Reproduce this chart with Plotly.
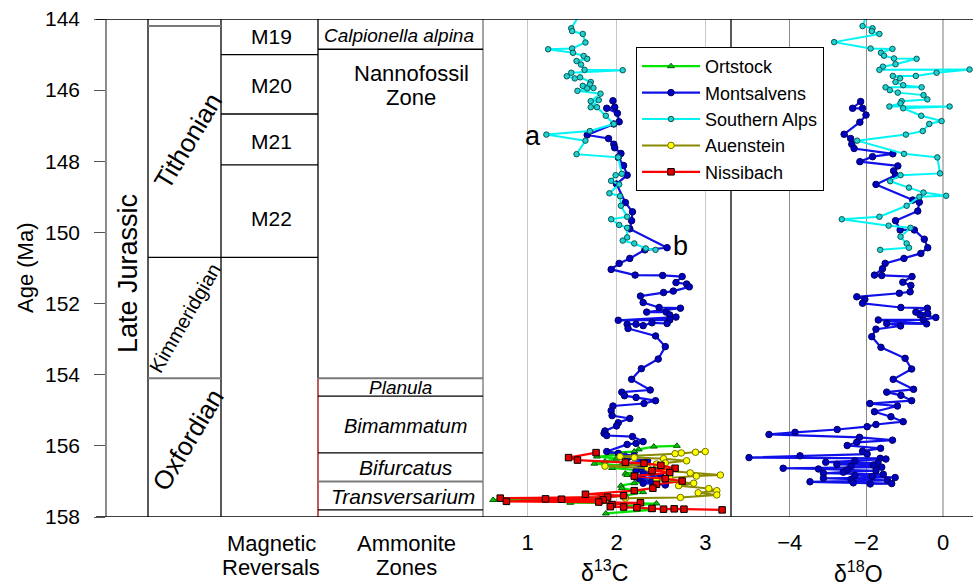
import plotly.graph_objects as go

W, H = 973, 586

def px(x):
    return x / W

# ---------------- data (age in Ma, isotope values in permil) ----------------
# Southern Alps d13C
sa_c13_age = [143.90, 144.26, 144.34, 144.42, 144.66, 144.83, 144.85, 144.95, 145.04, 145.12,
              145.18, 145.28, 145.43, 145.44, 145.51, 145.61, 145.67, 145.64, 145.77, 145.84,
              145.88, 145.95, 145.94, 146.02, 146.10, 146.31, 146.28, 146.48, 146.48, 146.72,
              146.95, 147.15, 147.25, 147.42, 147.80, 147.89, 148.35, 148.39, 148.55, 148.65,
              148.90, 148.98, 149.25, 149.56, 149.63, 149.79, 149.87, 150.14, 150.23, 150.31,
              150.45, 150.49]
sa_c13 = [1.58, 1.49, 1.50, 1.62, 1.65, 1.50, 1.23, 1.51, 1.63, 1.67,
          1.55, 1.60, 1.64, 2.07, 1.49, 1.44, 1.53, 1.59, 1.71, 1.70,
          1.62, 1.67, 1.74, 1.56, 1.82, 1.71, 1.80, 1.71, 1.78, 1.88,
          1.97, 1.70, 1.21, 1.65, 1.55, 2.02, 2.06, 1.99, 1.94, 2.03,
          1.92, 2.04, 2.05, 2.12, 1.94, 2.03, 2.12, 2.12, 2.07, 2.20,
          2.33, 2.44]

# Montsalvens d13C
mo_c13_age = [146.30, 146.48, 146.51, 146.65, 146.89, 146.95, 147.26, 147.36, 147.52, 147.62,
              147.78, 147.89, 148.12, 148.39, 148.64, 149.16, 149.42, 149.67, 149.90, 150.43,
              150.49, 150.73, 150.87, 151.04, 151.20, 151.21, 151.24, 151.41, 151.45, 151.53,
              151.65, 151.69, 151.79, 151.97, 152.11, 152.13, 152.24, 152.24, 152.32, 152.38,
              152.47, 152.46, 152.56, 152.54, 152.62, 152.58, 152.58, 152.70, 152.91, 153.21,
              153.56, 153.83, 154.13, 154.43, 154.49, 154.59, 154.64, 154.73, 154.81, 154.88,
              155.01, 155.15, 155.23, 155.35, 155.44, 155.58, 155.65, 155.71, 155.74, 155.88,
              155.93, 155.96, 156.16, 156.21, 156.28, 156.35, 156.42, 156.50, 156.58, 156.63,
              156.70, 156.75, 156.80, 156.86, 156.92, 157.00, 157.05, 157.10]
mo_c13 = [1.96, 1.98, 1.89, 2.01, 2.03, 1.97, 1.67, 1.91, 1.97, 1.98,
          2.05, 2.02, 2.08, 2.12, 2.00, 2.10, 2.18, 2.17, 2.15, 2.57,
          2.32, 2.15, 2.03, 1.94, 2.21, 2.52, 2.74, 2.67, 2.79, 2.82,
          2.64, 2.53, 2.27, 2.30, 2.48, 2.72, 2.34, 2.56, 2.60, 2.67,
          2.02, 2.60, 2.57, 2.40, 2.30, 2.22, 2.12, 2.13, 2.44, 2.55,
          2.47, 2.28, 2.17, 2.38, 2.06, 2.09, 2.22, 2.44, 2.31, 1.96,
          1.94, 1.95, 2.15, 2.02, 2.00, 1.87, 1.86, 1.89, 2.18, 2.30,
          2.22, 2.12, 1.89, 2.02, 2.20, 2.12, 2.35, 2.10, 2.28, 2.45,
          2.22, 2.40, 2.30, 2.50, 2.25, 2.40, 2.30, 2.55]

# Ortstock d13C
or_c13_age = [156.00, 156.02, 156.10, 156.16, 156.19, 156.25, 156.30, 156.36, 156.44, 156.50,
              156.55, 156.62, 156.70, 156.78, 156.82, 156.88, 156.91, 156.98, 157.05, 157.12,
              157.19, 157.30, 157.40, 157.45, 157.52, 157.55, 157.60, 157.62, 157.70, 157.80,
              157.90]
or_c13 = [2.68, 2.42, 2.25, 2.20, 1.93, 2.10, 1.78, 2.00, 1.87, 1.75,
          2.05, 1.95, 2.30, 2.10, 2.12, 2.25, 2.23, 2.40, 2.20, 2.05,
          2.06, 2.30, 2.10, 1.80, 0.61, 1.30, 1.48, 2.45, 2.10, 2.40,
          1.88]

# Auenstein d13C
au_c13_age = [156.16, 156.18, 156.20, 156.22, 156.30, 156.33, 156.36, 156.42, 156.48, 156.51,
              156.57, 156.62, 156.70, 156.76, 156.82, 156.85, 156.90, 156.96, 157.05, 157.12,
              157.20, 157.26, 157.32, 157.38, 157.45, 157.47]
au_c13 = [3.00, 2.89, 2.73, 2.66, 2.04, 2.20, 2.53, 2.79, 2.55, 2.45,
          1.87, 2.35, 2.55, 2.83, 3.17, 2.90, 2.60, 2.45, 2.87, 2.70,
          3.04, 3.13, 2.92, 3.13, 2.72, 2.10]

# Nissibach d13C
ni_c13_age = [156.19, 156.33, 156.40, 156.46, 156.49, 156.55, 156.63, 156.70, 156.75, 156.85,
              156.92, 156.99, 157.08, 157.19, 157.26, 157.36, 157.40, 157.44, 157.47, 157.49,
              157.50, 157.52, 157.56, 157.58, 157.60, 157.65, 157.71, 157.72, 157.74, 157.76,
              157.78, 157.77, 157.78, 157.80]
ni_c13 = [1.77, 1.46, 1.56, 2.10, 2.31, 2.50, 2.66, 2.40, 2.60, 2.20,
          2.55, 2.74, 2.45, 2.41, 2.20, 1.65, 2.08, 1.90, 0.69, 1.20,
          1.38, 1.85, 0.76, 1.80, 2.27, 1.95, 1.93, 2.08, 2.23, 2.40,
          2.53, 2.65, 2.76, 3.19]

# Southern Alps d18O
sa_o18_age = [143.90, 144.20, 144.26, 144.34, 144.42, 144.65, 144.83, 144.84, 144.95, 145.03,
              145.11, 145.12, 145.27, 145.34, 145.43, 145.42, 145.51, 145.60, 145.60, 145.67,
              145.77, 145.86, 145.92, 145.92, 146.00, 146.07, 146.14, 146.26, 146.31, 146.37,
              146.46, 146.46, 146.51, 146.72, 146.87, 146.95, 147.15, 147.25, 147.42, 147.79,
              147.89, 148.34, 148.39, 148.56, 148.74, 148.88, 148.97, 149.00, 149.25, 149.56,
              149.63, 149.81, 149.87, 150.12, 150.31, 150.43, 150.49]
sa_o18 = [-2.00, -2.10, -1.84, -1.86, -1.66, -2.84, -1.89, -1.32, -1.62, -1.54,
          -1.28, -0.69, -1.24, -1.57, -1.66, 0.69, -0.17, -0.71, -1.31, -1.12,
          -1.24, -1.04, -0.56, -1.50, -1.39, -1.18, -0.51, -0.41, -1.08, -1.11,
          -1.40, 0.17, -1.04, -0.57, -0.04, -0.36, -0.53, -0.97, -2.24, -1.02,
          -0.15, -0.08, -1.11, -1.38, -0.89, -0.51, 0.08, -0.62, -0.95, -1.66,
          -2.64, -1.42, -0.85, -1.11, -0.95, -0.89, -1.64]

# Montsalvens d18O
mo_o18_age = [146.32, 146.51, 146.51, 146.70, 146.90, 147.24, 147.36, 147.52, 147.64, 147.79,
              147.87, 148.01, 148.13, 148.27, 148.39, 148.65, 149.09, 149.15, 149.40, 149.67,
              149.93, 149.93, 150.19, 150.43, 150.59, 150.73, 150.87, 151.02, 151.20, 151.21,
              151.24, 151.40, 151.49, 151.67, 151.71, 151.81, 151.88, 151.99, 152.11, 152.13,
              152.24, 152.28, 152.32, 152.39, 152.46, 152.46, 152.57, 152.56, 152.63, 152.72,
              152.93, 153.23, 153.54, 153.84, 154.13, 154.41, 154.49, 154.58, 154.73, 154.81,
              154.88, 155.04, 155.18, 155.32, 155.40, 155.46, 155.54, 155.62, 155.68, 155.76,
              155.84, 155.90, 155.99, 156.07, 156.15, 156.23, 156.28, 156.33, 156.35, 156.37,
              156.42, 156.46, 156.48, 156.52, 156.54, 156.57, 156.60, 156.63, 156.65, 156.68,
              156.70, 156.74, 156.77, 156.80, 156.83, 156.86, 156.89, 156.91, 156.94, 156.97,
              157.01, 157.04, 157.06, 157.07]
mo_o18 = [-2.15, -2.36, -2.10, -2.01, -2.17, -2.58, -2.41, -2.38, -2.32, -1.31,
          -1.84, -2.17, -1.18, -1.29, -1.24, -1.75, -0.79, -0.62, -0.66, -1.24,
          -1.12, -0.75, -0.49, -0.40, -0.58, -1.02, -1.51, -1.58, -1.79, -1.60,
          -0.81, -1.05, -0.84, -0.86, -1.14, -2.25, -2.04, -2.10, -1.10, -0.41,
          -0.71, -0.40, -0.60, -0.19, -0.51, -1.69, -0.43, -1.47, -1.11, -1.75,
          -1.86, -1.62, -0.99, -0.82, -1.30, -0.77, -1.47, -1.10, -0.82, -1.91,
          -1.19, -1.79, -1.36, -1.04, -1.75, -1.98, -2.76, -3.86, -4.54, -2.18,
          -1.32, -2.25, -2.50, -1.63, -2.10, -1.98, -3.73, -5.06, -1.64, -1.49,
          -2.30, -3.06, -1.70, -2.77, -1.82, -2.40, -1.60, -4.17, -3.25, -2.51,
          -1.75, -2.60, -3.12, -1.56, -2.30, -1.85, -1.25, -3.12, -2.40, -1.45,
          -3.47, -2.34, -1.34, -1.90]

# Stratigraphic boundaries (Ma)
stage_bounds = [144.2, 150.7, 154.1]
mag_bounds = [145.0, 146.67, 148.1]
mag_labels = ["M19", "M20", "M21", "M22"]
mag_label_age = [144.5, 145.86, 147.45, 149.6]
amm_bounds_black = [144.85, 154.6, 156.2, 157.8]
amm_bounds_gray = [154.1, 157.0]
y_ticks = [144, 146, 148, 150, 152, 154, 156, 158]

# ---------------- figure ----------------
FONT = "Liberation Sans, Arial, sans-serif"
fig = go.Figure()

# invisible trace so that the stratigraphy subplot (x, y) exists and carries the age axis
fig.add_trace(go.Scatter(x=[None], y=[None], xaxis="x", yaxis="y", mode="markers",
                         showlegend=False, hoverinfo="skip"))

def add_series(xs, ys, name, axis, line_color, mcolor, mline, symbol, size, lw, show):
    fig.add_trace(go.Scatter(
        x=xs, y=ys, name=name, xaxis=axis, yaxis="y", mode="lines+markers",
        line=dict(color=line_color, width=lw),
        marker=dict(symbol=symbol, size=size, color=mcolor, line=dict(color=mline, width=1)),
        showlegend=show))

add_series(or_c13, or_c13_age, "Ortstock", "x2", "#00e400", "#00c800", "#005a00", "triangle-up", 6, 2.2, True)
add_series(mo_c13, mo_c13_age, "Montsalvens", "x2", "#1010e8", "#0000c0", "#000060", "circle", 6.5, 2.2, True)
add_series(sa_c13, sa_c13_age, "Southern Alps", "x2", "#00f4f4", "#22d0d0", "#005858", "circle", 5.5, 2.0, True)
add_series(au_c13, au_c13_age, "Auenstein", "x2", "#8a8a00", "#ffff00", "#707000", "circle", 6.5, 2.0, True)
add_series(ni_c13, ni_c13_age, "Nissibach", "x2", "#ff0000", "#e00000", "#000000", "square", 6.5, 2.2, True)
add_series(mo_o18, mo_o18_age, "Montsalvens", "x3", "#1010e8", "#0000c0", "#000060", "circle", 6.5, 2.2, False)
add_series(sa_o18, sa_o18_age, "Southern Alps", "x3", "#00f4f4", "#22d0d0", "#005858", "circle", 5.5, 2.0, False)

shapes = []

def vline(x, y0, y1, color, width=1.3):
    shapes.append(dict(type="line", xref="paper", yref="y", x0=px(x), x1=px(x), y0=y0, y1=y1,
                       line=dict(color=color, width=width)))

def hline(x0, x1, y, color, width=1.3):
    shapes.append(dict(type="line", xref="paper", yref="y", x0=px(x0), x1=px(x1), y0=y, y1=y,
                       line=dict(color=color, width=width)))

# column separators
vline(148, 144, 158, "black")
vline(221, 144, 158, "black")
vline(318, 144, 154.1, "black")
vline(318, 154.1, 158, "#a00000")
vline(483, 144, 158, "#8c8c8c", 1.6)
vline(731, 144, 158, "#303030", 1.6)
# stage boundaries
hline(148, 221, stage_bounds[0], "#7a7a7a", 2)
hline(148, 318, stage_bounds[1], "black")
hline(148, 221, stage_bounds[2], "#7a7a7a", 2)
# magnetic reversals
for b in mag_bounds:
    hline(221, 318, b, "black")
# ammonite zones
for b in amm_bounds_black:
    hline(318, 483, b, "black")
for b in amm_bounds_gray:
    hline(318, 483, b, "#7a7a7a", 2)
# top / bottom frame
hline(96, 973, 144, "black", 1.5)
hline(96, 973, 158, "black", 1.5)

ann = []

def text(x, y, s, size=21, angle=0, italic=False, xref="paper"):
    if italic:
        s = "<i>" + s + "</i>"
    ann.append(dict(x=px(x) if xref == "paper" else x, y=y, xref=xref, yref="y", text=s,
                    showarrow=False, textangle=angle, xanchor="center", yanchor="middle",
                    font=dict(family=FONT, size=size, color="black")))

text(128, 151.17, "Late Jurassic", size=27, angle=-90)
text(188, 147.43, "Tithonian", size=26, angle=-59)
text(185, 152.41, "Kimmeridgian", size=20, angle=-60)
text(188, 155.84, "Oxfordian", size=26, angle=-59)
for lab, a in zip(mag_labels, mag_label_age):
    text(271, a, lab, size=21)
text(399, 144.47, "Calpionella alpina", size=19, italic=True)
text(411, 145.52, "Nannofossil", size=22)
text(411, 146.2, "Zone", size=22)
text(400, 154.36, "Planula", size=19, italic=True)
text(405, 155.44, "Bimammatum", size=20, italic=True)
text(406, 156.61, "Bifurcatus", size=21, italic=True)
text(403, 157.42, "Transversarium", size=21, italic=True)
text(1.06, 147.29, "a", size=27, xref="x2")
text(2.72, 150.38, "b", size=27, xref="x2")

# bottom labels (paper y)
def ptext(x, ypix, s, size=22, angle=0):
    ann.append(dict(x=px(x), y=(517 - ypix) / 498, xref="paper", yref="paper", text=s,
                    showarrow=False, textangle=angle, xanchor="center", yanchor="middle",
                    font=dict(family=FONT, size=size, color="black")))

ptext(271, 543, "Magnetic")
ptext(271, 567, "Reversals")
ptext(406, 543, "Ammonite")
ptext(406, 567, "Zones")
ptext(604, 571, "δ<sup>13</sup>C", size=23)
ptext(858, 572, "δ<sup>18</sup>O", size=23)
ptext(25, 268, "Age (Ma)", size=22, angle=-90)

fig.update_layout(
    width=W, height=H,
    margin=dict(l=0, r=0, t=19, b=69, autoexpand=False),
    paper_bgcolor="white", plot_bgcolor="rgba(0,0,0,0)",
    font=dict(family=FONT, size=21, color="black"),
    shapes=shapes, annotations=ann,
    xaxis=dict(domain=[px(107), px(483)], range=[0, 1], visible=False, anchor="y",
               fixedrange=True, automargin=False),
    xaxis2=dict(domain=[px(483), px(731)], range=[0.496, 3.29], anchor="y",
                tickvals=[1, 2, 3], showgrid=True, gridcolor="#c8c8c8", gridwidth=1.3,
                zeroline=False, showline=False, ticks="", ticklabelstandoff=10,
                tickfont=dict(size=22), automargin=False),
    xaxis3=dict(domain=[px(731), 1], range=[-5.53, 0.78], anchor="y",
                tickvals=[-4, -2, 0], showgrid=True, gridcolor="#8c8c8c", gridwidth=1.3,
                zeroline=True, zerolinecolor="#bdbdbd", zerolinewidth=1.6,
                showline=False, ticks="", ticklabelstandoff=10, tickfont=dict(size=22),
                automargin=False),
    yaxis=dict(anchor="x", range=[158, 144], tickvals=y_ticks, ticks="outside", ticklen=11,
               tickcolor="#555555", tickwidth=1.3, showline=True, linecolor="#8c8c8c",
               linewidth=1.6, showgrid=False, zeroline=False, ticklabelstandoff=10,
               tickfont=dict(size=21), automargin=False),
    legend=dict(x=px(636), y=(517 - 47) / 498, xanchor="left", yanchor="top",
                bgcolor="white", bordercolor="black", borderwidth=1,
                font=dict(family=FONT, size=18, color="black"), itemwidth=58,
                tracegroupgap=0),
)

fig.write_html("out.html",
               config={"displayModeBar": False},
               post_script="document.body.style.margin='0px';document.body.style.overflow='hidden';")
